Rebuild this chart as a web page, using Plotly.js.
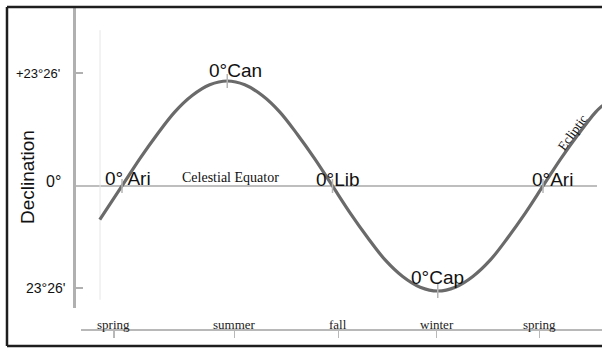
<!DOCTYPE html>
<html>
<head>
<meta charset="utf-8">
<script src="https://cdn.plot.ly/plotly-3.0.1.min.js"></script>
<style>
html,body{margin:0;padding:0;background:#fff;}
#chart{width:602px;height:352px;}
</style>
</head>
<body>
<div id="chart"></div>
<script>
// Ecliptic longitude (deg) vs declination (deg)
const longitude = [-19, 0, 15, 30, 45, 60, 75, 90, 105, 120, 135, 150, 165, 180, 195, 210, 225, 240, 255, 270, 285, 300, 315, 330, 345, 360, 375, 390, 405, 411];
const declination = [-7.5, 0, 6, 11.5, 16.5, 20.2, 22.6, 23.44, 22.6, 20.2, 16.5, 11.5, 6, 0, -6, -11.5, -16.5, -20.2, -22.6, -23.44, -22.6, -20.2, -16.5, -11.5, -6, 0, 6, 11.5, 16.5, 18];

// Key points on the ecliptic
const pointLabels = ['0° Ari', '0°Can', '0°Lib', '0°Cap', '0°Ari'];
const pointLon = [0, 90, 180, 270, 360];
const pointDec = [0, 23.44, 0, -23.44, 0];

// Seasons along the bottom axis
const seasonLabels = ['spring', 'summer', 'fall', 'winter', 'spring'];
const seasonLon = [-7, 96, 185, 269, 357];

// Declination axis labels
const yTickText = ["+23°26'", '0°', "23°26'"];
const yTickVals = [25.2, 0, -22.8];

const curve = {
  x: longitude, y: declination, type: 'scatter', mode: 'lines',
  line: {color: '#6a6a6a', width: 3.2, shape: 'spline', smoothing: 1},
  hoverinfo: 'skip', showlegend: false
};
const marks = {
  x: pointLon, y: pointDec, type: 'scatter', mode: 'markers',
  marker: {symbol: 'line-ns-open', size: 10, color: '#b4b4b4', line: {color: '#b4b4b4', width: 1.5}},
  hoverinfo: 'skip', showlegend: false
};

const sans = 'Liberation Sans, Arial, sans-serif';
const serif = 'Liberation Serif, Times New Roman, serif';

const labelShift = [[6, 7.5], [8, 10.5], [5.5, 6.5], [0, 13.5], [9, 6.5]];
const annotations = [];
pointLabels.forEach((t, i) => {
  annotations.push({x: pointLon[i], y: pointDec[i], xref: 'x', yref: 'y', text: t, showarrow: false,
    xanchor: 'center', yanchor: 'middle', xshift: labelShift[i][0], yshift: labelShift[i][1],
    font: {family: sans, size: 19, color: '#111'}});
});
seasonLabels.forEach((t, i) => {
  annotations.push({x: seasonLon[i], y: 0, xref: 'x', yref: 'paper', text: t, showarrow: false,
    xanchor: 'center', yanchor: 'middle', yshift: 6,
    font: {family: serif, size: 13, color: '#222'}});
});
const yLabSize = [13, 16, 14];
const yLabX = [-0.022, -0.02, -0.014];
yTickText.forEach((t, i) => {
  annotations.push({x: yLabX[i], y: yTickVals[i], xref: 'paper', yref: 'y', text: t, showarrow: false,
    xanchor: 'right', yanchor: 'middle', yshift: i === 1 ? 4 : 0,
    font: {family: sans, size: yLabSize[i], color: '#111'}});
});
annotations.push({x: -0.089, y: 0.475, xref: 'paper', yref: 'paper', text: 'Declination', showarrow: false,
  textangle: -90, xanchor: 'center', yanchor: 'middle', font: {family: sans, size: 19, color: '#111'}});
annotations.push({x: 93, y: 0, xref: 'x', yref: 'y', text: 'Celestial Equator', showarrow: false,
  xanchor: 'center', yanchor: 'middle', yshift: 8, font: {family: serif, size: 14, color: '#111'}});
annotations.push({x: 385, y: 12, xref: 'x', yref: 'y', text: 'Ecliptic', showarrow: false,
  textangle: -54, xanchor: 'center', yanchor: 'middle', font: {family: serif, size: 13, color: '#111'}});

const frame = {color: '#1e1e1e', width: 2.5};
const layout = {
  width: 602, height: 352,
  margin: {l: 74, r: 0, t: 8, b: 22, pad: 0},
  paper_bgcolor: '#fff', plot_bgcolor: '#fff',
  showlegend: false,
  xaxis: {range: [-35.06, 410.45], domain: [0.01326, 1], anchor: 'free', position: 0,
    showline: true, linecolor: '#b8b8b8', linewidth: 2, ticks: 'outside', ticklen: 7,
    tickcolor: '#b8b8b8', tickwidth: 1.5, tickmode: 'array', tickvals: seasonLon,
    showticklabels: false, showgrid: false, zeroline: false, fixedrange: true},
  yaxis: {range: [-27.24, 39.74], domain: [0.06832, 1], anchor: 'free', position: 0,
    showline: true, linecolor: '#b0b0b0', linewidth: 2.5, ticks: 'inside', ticklen: 7,
    tickcolor: '#b0b0b0', tickwidth: 1.5, tickmode: 'array', tickvals: [yTickVals[0], yTickVals[2]],
    showticklabels: false, showgrid: false, zeroline: false, fixedrange: true},
  shapes: [
    {type: 'line', xref: 'paper', yref: 'y', x0: 0, x1: 0.9905, y0: 0, y1: 0,
      line: {color: '#a8a8a8', width: 1.5}, layer: 'below'},
    {type: 'line', xref: 'x', yref: 'y', x0: -18.8, x1: -18.8, y0: 34.8, y1: -25.4,
      line: {color: '#e6e6e6', width: 1}, layer: 'below'},
    {type: 'line', xref: 'paper', yref: 'paper', x0: -0.1269, x1: 1.02, y0: 1.0031, y1: 1.0031, line: frame, layer: 'above'},
    {type: 'line', xref: 'paper', yref: 'paper', x0: -0.1269, x1: 1.02, y0: -0.0497, y1: -0.0497, line: frame, layer: 'above'},
    {type: 'line', xref: 'paper', yref: 'paper', x0: -0.1269, x1: -0.1269, y0: -0.0497, y1: 1.0031, line: frame, layer: 'above'}
  ],
  annotations: annotations
};

Plotly.newPlot('chart', [curve, marks], layout, {staticPlot: true, displayModeBar: false});
</script>
</body>
</html>
